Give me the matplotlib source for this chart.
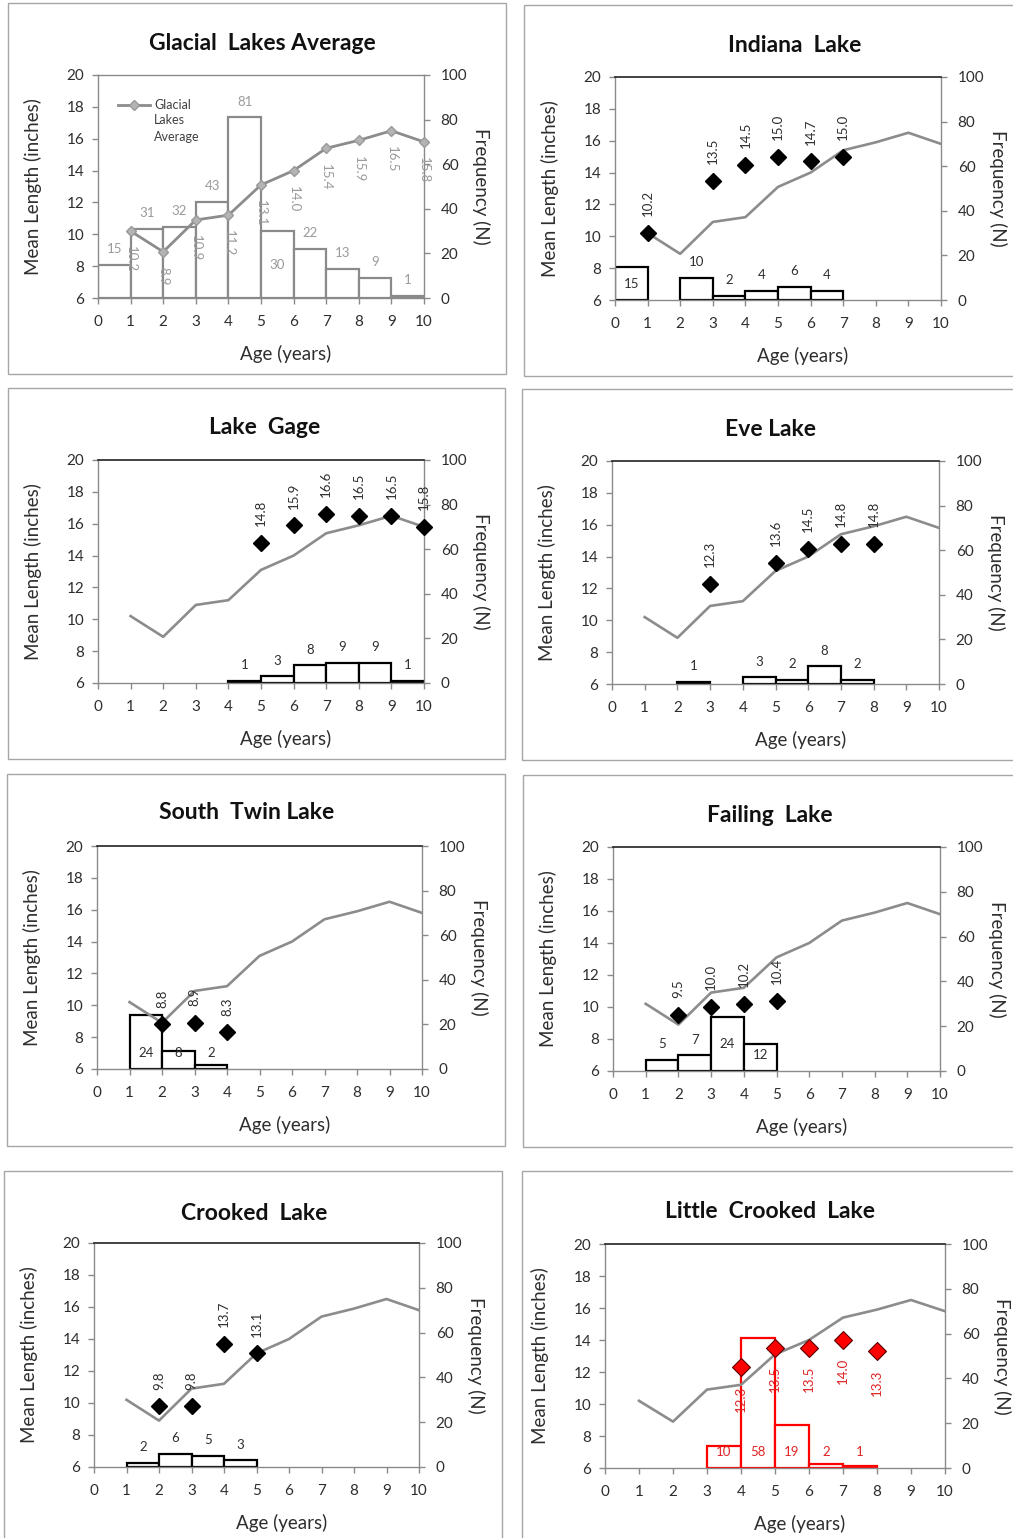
import matplotlib
matplotlib.use('Agg')
import matplotlib.pyplot as plt
from matplotlib.patches import Rectangle
import numpy as np

plt.rcParams['font.family'] = ['Lato', 'DejaVu Sans']

# ---------------- data ----------------
avg_ages = [1, 2, 3, 4, 5, 6, 7, 8, 9, 10]
avg_length = [10.2, 8.9, 10.9, 11.2, 13.1, 14.0, 15.4, 15.9, 16.5, 15.8]
avg_freq = [15, 31, 32, 43, 81, 30, 22, 13, 9, 1]

indiana_ages = [1, 3, 4, 5, 6, 7]
indiana_length = [10.2, 13.5, 14.5, 15.0, 14.7, 15.0]
indiana_freq = [15, 10, 2, 4, 6, 4]

gage_ages = [5, 6, 7, 8, 9, 10]
gage_length = [14.8, 15.9, 16.6, 16.5, 16.5, 15.8]
gage_freq = [1, 3, 8, 9, 9, 1]

eve_ages = [3, 5, 6, 7, 8]
eve_length = [12.3, 13.6, 14.5, 14.8, 14.8]
eve_freq = [1, 3, 2, 8, 2]

southtwin_ages = [2, 3, 4]
southtwin_length = [8.8, 8.9, 8.3]
southtwin_freq = [24, 8, 2]

failing_ages = [2, 3, 4, 5]
failing_length = [9.5, 10.0, 10.2, 10.4]
failing_freq = [5, 7, 24, 12]

crooked_ages = [2, 3, 4, 5]
crooked_length = [9.8, 9.8, 13.7, 13.1]
crooked_freq = [2, 6, 5, 3]

littlecrooked_ages = [4, 5, 6, 7, 8]
littlecrooked_length = [12.3, 13.5, 13.5, 14.0, 13.3]
littlecrooked_freq = [10, 58, 19, 2, 1]

titles = ["Glacial  Lakes Average", "Indiana  Lake", "Lake  Gage", "Eve Lake",
          "South  Twin Lake", "Failing  Lake", "Crooked  Lake", "Little  Crooked  Lake"]
x_ticks = list(range(0, 11))
left_ticks = list(range(6, 21, 2))
right_ticks = list(range(0, 101, 20))

# ---------------- layout ----------------
W, H = 1013, 1538
fig = plt.figure(figsize=(W / 100, H / 100), dpi=100)

panels = [
    dict(kind='avg', ages=avg_ages, length=avg_length, freq=avg_freq,
         plot=(98, 424, 75, 298), box=(8, 3, 506, 374), title=(262, 43),
         modes={5: 'center'}),
    dict(kind='lake', ages=indiana_ages, length=indiana_length, freq=indiana_freq,
         plot=(615, 941, 77, 300), box=(524, 5, 1016, 376), title=(795, 45),
         modes={0: 'base'}),
    dict(kind='lake', ages=gage_ages, length=gage_length, freq=gage_freq,
         plot=(98, 424, 460, 683), box=(8, 388, 505, 759), title=(265, 428),
         modes={}),
    dict(kind='lake', ages=eve_ages, length=eve_length, freq=eve_freq,
         plot=(612, 939, 461, 684), box=(522, 389, 1016, 760), title=(770, 429),
         modes={}),
    dict(kind='lake', ages=southtwin_ages, length=southtwin_length, freq=southtwin_freq,
         plot=(97, 422, 846, 1069), box=(7, 774, 505, 1146), title=(247, 813),
         modes={0: 'base', 1: 'base', 2: 'base'}),
    dict(kind='lake', ages=failing_ages, length=failing_length, freq=failing_freq,
         plot=(613, 940, 847, 1071), box=(523, 775, 1016, 1147), title=(770, 815),
         modes={2: 'center', 3: 'base'}),
    dict(kind='lake', ages=crooked_ages, length=crooked_length, freq=crooked_freq,
         plot=(94, 419, 1243, 1467), box=(4, 1171, 502, 1545), title=(254, 1213),
         modes={}),
    dict(kind='red', ages=littlecrooked_ages, length=littlecrooked_length,
         freq=littlecrooked_freq,
         plot=(605, 945, 1244, 1468), box=(522, 1171, 1016, 1545), title=(770, 1212),
         modes={0: 'base', 1: 'base', 2: 'base', 3: 'base', 4: 'base'}),
]

GREY_LINE = '#8c8c8c'
TICK_GREY = '#8a8a8a'
TEXT_DARK = '#2e2e2e'
LBL = 9.5


def fx(px):
    return px / W


def fy(py):
    return 1 - py / H


for i, p in enumerate(panels):
    # panel border
    bx0, by0, bx1, by1 = p['box']
    fig.add_artist(Rectangle((fx(bx0), fy(by1)), fx(bx1 - bx0), (by1 - by0) / H,
                             transform=fig.transFigure, fill=False,
                             edgecolor='#a6a6a6', linewidth=1.0))
    x0, x10, y20, y6 = p['plot']
    ax = fig.add_axes([fx(x0), fy(y6), fx(x10 - x0), (y6 - y20) / H])
    ax2 = ax.twinx()
    ax.set_zorder(ax2.get_zorder() + 1)
    ax.patch.set_visible(False)
    ax2.patch.set_facecolor('white')

    ax.set_xlim(0, 10)
    ax.set_ylim(6, 20)
    ax2.set_ylim(0, 100)
    ax.set_xticks(x_ticks)
    ax.set_yticks(left_ticks)
    ax2.set_yticks(right_ticks)

    kind = p['kind']
    if kind == 'avg':
        bar_edge, bar_lw, blabel_col = '#8a8a8a', 1.6, '#9a9a9a'
    elif kind == 'red':
        bar_edge, bar_lw, blabel_col = '#ff0000', 1.6, '#e02424'
    else:
        bar_edge, bar_lw, blabel_col = '#000000', 1.6, TEXT_DARK

    ages = np.array(p['ages'])
    freq = np.array(p['freq'])
    ax2.bar(ages - 1, freq, width=1, align='edge', facecolor='white',
            edgecolor=bar_edge, linewidth=bar_lw, zorder=2)
    for j, (a, f) in enumerate(zip(ages, freq)):
        mode = p['modes'].get(j, 'outside')
        if mode == 'outside':
            yy = f + 7
        elif mode == 'center':
            yy = f / 2
        else:
            yy = 7
        ax2.text(a - 0.5, yy, str(f), ha='center', va='center', fontsize=LBL,
                 color=blabel_col, zorder=5)

    # average line
    if kind == 'avg':
        line, = ax.plot(avg_ages, avg_length, color=GREY_LINE, lw=2.0, marker='D',
                        ms=5.5, mfc='#b4b4b4', mec='#9a9a9a', zorder=4, clip_on=False)
        for a, v in zip(avg_ages, avg_length):
            ax.annotate(f"{v:.1f}", (a, v), xytext=(0, -11), textcoords='offset points',
                        rotation=270, ha='center', va='top', fontsize=LBL,
                        color='#9a9a9a', zorder=5)
        leg = ax.legend([line], ['Glacial'], loc='upper left',
                        bbox_to_anchor=(0.045, 0.915), frameon=False, fontsize=9,
                        handlelength=2.6, handletextpad=0.3, borderaxespad=0)
        leg.set_zorder(5)
        for t in leg.get_texts():
            t.set_color('#404040')
        ann = ax.annotate('Lakes\nAverage', xy=(0, 0), xycoords=leg.get_texts()[0],
                          xytext=(0, -2.5), textcoords='offset points', ha='left',
                          va='top', fontsize=9, color='#404040', linespacing=1.5)
        ann.set_zorder(8)
    else:
        ax.plot(avg_ages, avg_length, color=GREY_LINE, lw=1.9, zorder=3)
        if kind == 'red':
            ax.plot(ages, p['length'], linestyle='none', marker='D', ms=9.5,
                    mfc='#ff0000', mec='#5a0000', mew=0.8, zorder=6, clip_on=False)
            for a, v in zip(ages, p['length']):
                ax.annotate(f"{v:.1f}", (a, v), xytext=(0, -13),
                            textcoords='offset points', rotation=90, ha='center',
                            va='top', fontsize=LBL, color='#e02424', zorder=6)
        else:
            ax.plot(ages, p['length'], linestyle='none', marker='D', ms=8.5,
                    mfc='#000000', mec='#000000', zorder=6, clip_on=False)
            for a, v in zip(ages, p['length']):
                ax.annotate(f"{v:.1f}", (a, v), xytext=(0, 12),
                            textcoords='offset points', rotation=90, ha='center',
                            va='bottom', fontsize=LBL, color=TEXT_DARK, zorder=6)

    # spines & ticks
    for s in ax2.spines.values():
        s.set_visible(False)
    for name, s in ax.spines.items():
        s.set_color('#8a8a8a')
        s.set_linewidth(1.0)
    if kind != 'avg':
        ax.spines['top'].set_color('#222222')
        ax.spines['top'].set_linewidth(1.2)
    ax.tick_params(axis='x', direction='out', length=4, width=1, color=TICK_GREY,
                   labelcolor=TEXT_DARK, labelsize=11, pad=8)
    ax.tick_params(axis='y', direction='out', length=4, width=1, color=TICK_GREY,
                   labelcolor=TEXT_DARK, labelsize=11, pad=6)
    ax2.tick_params(axis='y', direction='out', length=4, width=1, color=TICK_GREY,
                    labelcolor=TEXT_DARK, labelsize=11, pad=8)

    # titles and axis labels
    tx, ty = p['title']
    fig.text(fx(tx), fy(ty), titles[i], ha='center', va='center', fontsize=16.5,
             fontweight='bold', color='#111111')
    fig.text(fx(x0 - 65), fy((y20 + y6) / 2), 'Mean Length (inches)', rotation=90,
             ha='center', va='center', fontsize=13.5, color=TEXT_DARK)
    fig.text(fx(x10 + 57), fy((y20 + y6) / 2), 'Frequency (N)', rotation=270,
             ha='center', va='center', fontsize=13.5, color=TEXT_DARK)
    fig.text(fx((x0 + x10) / 2 + 25), fy(y6 + 56), 'Age (years)', ha='center',
             va='center', fontsize=13.5, color=TEXT_DARK)

fig.savefig('out.png', dpi=100, facecolor='white')
